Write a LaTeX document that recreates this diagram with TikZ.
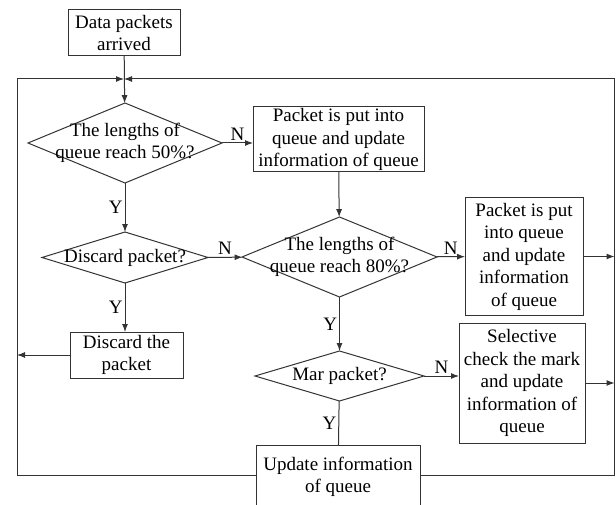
\documentclass[tikz,border=0pt]{standalone}
\usepackage{fontspec}
\setmainfont{Liberation Serif}
\usetikzlibrary{shapes.geometric,arrows.meta}
\begin{document}
\begin{tikzpicture}[x=1pt,y=-1pt,>={Latex[length=8pt,width=6pt]},
    every node/.style={font=\fontsize{19}{22.5}\selectfont},
    flowline/.style={draw=black!80,line width=1pt},
    procbox/.style={draw=black!80,line width=1pt,fill=white,rectangle,align=center,inner sep=1pt,outer sep=0pt},
    decision/.style={draw=black!80,line width=1pt,diamond,inner sep=0pt,outer sep=0pt},
    answer/.style={font=\fontsize{19}{22}\selectfont,inner sep=2pt}]
                \useasboundingbox (0,0) rectangle (616,505);

                \node[procbox,minimum width=112pt,minimum height=46pt] (arrive) at (124,33) {Data packets\\arrived};
                \node[decision,minimum width=194pt,minimum height=80pt,label={[align=center]center:The lengths of\\queue reach 50\%?}] (half) at (125,143) {};
                \node[procbox,minimum width=171pt,minimum height=65pt] (putA) at (338.5,139.5) {Packet is put into\\queue and update\\information of queue};
                \node[decision,minimum width=166pt,minimum height=51pt,label={center:Discard packet?}] (drop) at (125,257.5) {};
                \node[decision,minimum width=195pt,minimum height=80pt,label={[align=center]center:The lengths of\\queue reach 80\%?}] (most) at (339.5,257) {};
                \node[procbox,minimum width=118pt,minimum height=117pt] (putB) at (524,256.5) {Packet is put\\into queue\\and update\\information\\of queue};
                \node[procbox,minimum width=113pt,minimum height=46pt] (discard) at (126.5,355) {Discard the\\packet};
                \node[decision,minimum width=169pt,minimum height=50pt,label={center:Mar packet?}] (mark) at (339.5,376) {};
                \node[procbox,minimum width=126pt,minimum height=120pt] (check) at (522,383) {Selective\\check the mark\\and update\\information of\\queue};
                \node[procbox,minimum width=164pt,minimum height=64pt] (update) at (338,477) {Update information\\of queue};

                \coordinate (join) at (124,79);
                \coordinate (lt) at (17,79);
                \coordinate (lb) at (17,475);
                \coordinate (rt) at (614.5,79);
                \coordinate (rb) at (614.5,475);

                % main flow
                \draw[flowline,->] (arrive) to (half);
                \draw[flowline,->] (half.east) -- (half.east -| putA.west) node[answer,midway,above] {N};
                \draw[flowline,->] (half) -- (drop) node[answer,midway,left] {Y};
                \draw[flowline,->] (putA) -- (most);
                \draw[flowline,->] (drop) -- (most) node[answer,midway,above] {N};
                \draw[flowline,->] (drop.south) -- (drop.south |- discard.north) node[answer,midway,left] {Y};
                \draw[flowline,->] (most) -- (putB) node[answer,midway,above] {N};
                \draw[flowline,->] (most) -- (mark) node[answer,midway,left] {Y};
                \draw[flowline,->] (mark.east) -- (mark.east -| check.west) node[answer,midway,above] {N};
                \draw[flowline] (mark) -- (update) node[answer,midway,left] {Y};

                % loop back
                \draw[flowline,->] (discard.west) -- (discard.west -| lb);
                \draw[flowline,->] (putB.east) -- (putB.east -| rb);
                \draw[flowline,->] (check.east) -- (check.east -| rb);
                \draw[flowline] (lb) -- (lb -| update.west);
                \draw[flowline] (update.east |- rb) -- (rb);
                \draw[flowline,->] (lb) -- (lt) -- (join);
                \draw[flowline,->] (rb) -- (rt) -- (join);
            \end{tikzpicture}
\end{document}
